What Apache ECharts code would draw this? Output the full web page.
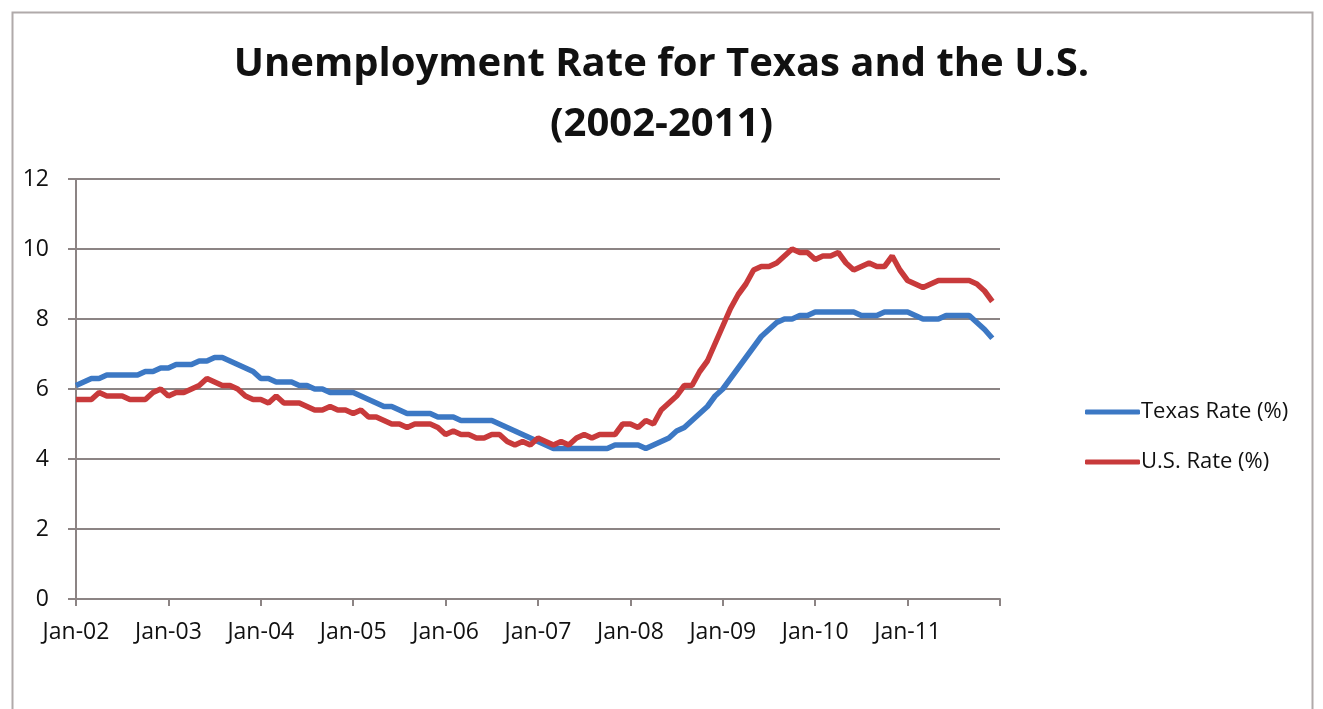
<!DOCTYPE html>
<html>
<head>
<meta charset="utf-8">
<title>Unemployment Rate for Texas and the U.S.</title>
<script src="https://cdn.jsdelivr.net/npm/echarts@6/dist/echarts.min.js"></script>
<style>
  html, body { margin: 0; padding: 0; background: #fff; }
  #chart { width: 1323px; height: 709px; }
</style>
</head>
<body>
<div id="chart"></div>
<script>
// month labels Jan-02 .. Jan-12 (the last one only closes the axis)
const monthNames = ["Jan","Feb","Mar","Apr","May","Jun","Jul","Aug","Sep","Oct","Nov","Dec"];
const months = [];
for (let y = 2; y <= 12; y++) {
  for (let m = 0; m < 12; m++) {
    if (y === 12 && m > 0) break;
    months.push(monthNames[m] + "-" + (y < 10 ? "0" + y : y));
  }
}

const texasRate = [
  6.1, 6.2, 6.3, 6.3, 6.4, 6.4, 6.4, 6.4, 6.4, 6.5, 6.5, 6.6,
  6.6, 6.7, 6.7, 6.7, 6.8, 6.8, 6.9, 6.9, 6.8, 6.7, 6.6, 6.5,
  6.3, 6.3, 6.2, 6.2, 6.2, 6.1, 6.1, 6.0, 6.0, 5.9, 5.9, 5.9,
  5.9, 5.8, 5.7, 5.6, 5.5, 5.5, 5.4, 5.3, 5.3, 5.3, 5.3, 5.2,
  5.2, 5.2, 5.1, 5.1, 5.1, 5.1, 5.1, 5.0, 4.9, 4.8, 4.7, 4.6,
  4.5, 4.4, 4.3, 4.3, 4.3, 4.3, 4.3, 4.3, 4.3, 4.3, 4.4, 4.4,
  4.4, 4.4, 4.3, 4.4, 4.5, 4.6, 4.8, 4.9, 5.1, 5.3, 5.5, 5.8,
  6.0, 6.3, 6.6, 6.9, 7.2, 7.5, 7.7, 7.9, 8.0, 8.0, 8.1, 8.1,
  8.2, 8.2, 8.2, 8.2, 8.2, 8.2, 8.1, 8.1, 8.1, 8.2, 8.2, 8.2,
  8.2, 8.1, 8.0, 8.0, 8.0, 8.1, 8.1, 8.1, 8.1, 7.9, 7.7, 7.45
];

const usRate = [
  5.7, 5.7, 5.7, 5.9, 5.8, 5.8, 5.8, 5.7, 5.7, 5.7, 5.9, 6.0,
  5.8, 5.9, 5.9, 6.0, 6.1, 6.3, 6.2, 6.1, 6.1, 6.0, 5.8, 5.7,
  5.7, 5.6, 5.8, 5.6, 5.6, 5.6, 5.5, 5.4, 5.4, 5.5, 5.4, 5.4,
  5.3, 5.4, 5.2, 5.2, 5.1, 5.0, 5.0, 4.9, 5.0, 5.0, 5.0, 4.9,
  4.7, 4.8, 4.7, 4.7, 4.6, 4.6, 4.7, 4.7, 4.5, 4.4, 4.5, 4.4,
  4.6, 4.5, 4.4, 4.5, 4.4, 4.6, 4.7, 4.6, 4.7, 4.7, 4.7, 5.0,
  5.0, 4.9, 5.1, 5.0, 5.4, 5.6, 5.8, 6.1, 6.1, 6.5, 6.8, 7.3,
  7.8, 8.3, 8.7, 9.0, 9.4, 9.5, 9.5, 9.6, 9.8, 10.0, 9.9, 9.9,
  9.7, 9.8, 9.8, 9.9, 9.6, 9.4, 9.5, 9.6, 9.5, 9.5, 9.8, 9.4,
  9.1, 9.0, 8.9, 9.0, 9.1, 9.1, 9.1, 9.1, 9.1, 9.0, 8.8, 8.5
];

const yTicks = [0, 2, 4, 6, 8, 10, 12];

var chartDom = document.getElementById("chart");
var myChart = echarts.init(chartDom);
var option;

const gridColor = "#8c8484";
const textFont = "'Open Sans', sans-serif";

option = {
  backgroundColor: "#fff",
  animation: false,
  title: {
    text: "Unemployment Rate for Texas and the U.S.\n(2002-2011)",
    left: "center",
    top: 30,
    padding: [5, 0, 5, 16],
    textStyle: {
      fontFamily: textFont,
      fontWeight: "bold",
      fontSize: 40,
      lineHeight: 60,
      color: "#111",
    },
  },
  graphic: [
    {
      type: "rect",
      left: 10,
      top: 10,
      shape: { width: 1300, height: 720 },
      style: { fill: null, stroke: "#b0aaaa", lineWidth: 2 },
      silent: true,
    },
  ],
  legend: {
    orient: "vertical",
    left: 1080,
    top: 396,
    itemGap: 28,
    itemWidth: 55,
    itemHeight: 5,
    icon: "roundRect",
    textStyle: {
      fontFamily: textFont,
      fontSize: 22,
      color: "#111",
      padding: [0, 0, 0, -4],
    },
    data: ["Texas Rate (%)", "U.S. Rate (%)"],
  },
  grid: {
    left: 76,
    right: 323,
    top: 179,
    bottom: 110,
    containLabel: false,
  },
  xAxis: {
    type: "category",
    boundaryGap: false,
    data: months,
    axisLine: { lineStyle: { color: gridColor, width: 2 } },
    axisTick: {
      interval: 11,
      length: 7,
      lineStyle: { color: gridColor, width: 2 },
    },
    axisLabel: {
      interval: 11,
      margin: 22,
      fontFamily: textFont,
      fontSize: 23,
      color: "#111",
      formatter: function (val, idx) {
        return idx === months.length - 1 ? "" : val;
      },
    },
    splitLine: { show: false },
  },
  yAxis: {
    type: "value",
    min: yTicks[0],
    max: yTicks[yTicks.length - 1],
    interval: 2,
    axisLine: { show: true, lineStyle: { color: gridColor, width: 2 } },
    axisTick: { show: true, length: 8, lineStyle: { color: gridColor, width: 2 } },
    axisLabel: {
      margin: 27,
      fontFamily: textFont,
      fontSize: 23,
      color: "#111",
    },
    splitLine: { lineStyle: { color: gridColor, width: 2 } },
  },
  series: [
    {
      name: "Texas Rate (%)",
      type: "line",
      data: texasRate,
      symbol: "none",
      lineStyle: { width: 5.5, color: "#3c78c4" },
      itemStyle: { color: "#3c78c4" },
      z: 3,
    },
    {
      name: "U.S. Rate (%)",
      type: "line",
      data: usRate,
      symbol: "none",
      lineStyle: { width: 5.5, color: "#c83a3b" },
      itemStyle: { color: "#c83a3b" },
      z: 4,
    },
  ],
};

option && myChart.setOption(option);
</script>
</body>
</html>
